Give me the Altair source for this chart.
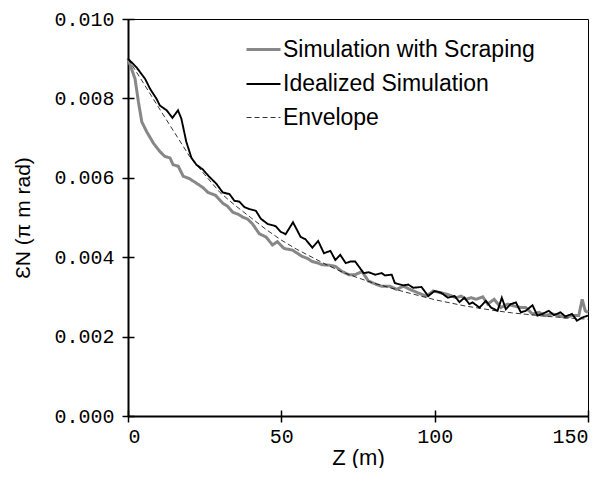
import altair as alt
import pandas as pd

series_names = ["Simulation with Scraping", "Idealized Simulation", "Envelope"]
series_colors = ["#878787", "#000000", "#000000"]
series_dash = [[1, 0], [1, 0], [5, 3]]
series_width = [3, 0.8, 1]

x_ticks = [0, 50, 100, 150]
y_ticks = [0.0, 0.002, 0.004, 0.006, 0.008, 0.010]

scr_z = [0, 2.3, 3.4, 4.5, 6.1, 8.3, 10.4, 12.0, 13.7, 14.7, 16.4, 18.0, 20.0, 22.8, 24.5,
         26.1, 28.5, 30.9, 32.5, 34.2, 36.0, 37.4, 39.0, 40.6, 42.8, 45.0, 47.1, 48.7, 50.9,
         53.6, 55.2, 56.8, 58.5, 60.1, 61.7, 63.3, 65.5, 67.6, 69.8, 72.0, 74.1, 76.3, 78.4,
         81.1, 82.7, 85.4, 87.6, 89.8, 91.9, 94.6, 97.3, 99.5, 102.2, 104.3, 107.0, 108.6,
         110.3, 111.9, 113.5, 115.7, 117.3, 119.4, 121.6, 123.8, 125.9, 128.1, 129.7, 131.9,
         134.0, 136.2, 138.3, 140.5, 142.6, 144.8, 147.0, 148.1, 149.1, 150.0]
scr_v = [0.00900, 0.00849, 0.00791, 0.00741, 0.00716, 0.00687, 0.00666, 0.00654, 0.00650,
         0.00633, 0.00629, 0.00604, 0.00598, 0.00584, 0.00575, 0.00563, 0.00556, 0.00536,
         0.00528, 0.00513, 0.00508, 0.00501, 0.00496, 0.00484, 0.00459, 0.00451, 0.00431,
         0.00439, 0.00422, 0.00418, 0.00410, 0.00402, 0.00397, 0.00389, 0.00386, 0.00381,
         0.00380, 0.00377, 0.00364, 0.00356, 0.00356, 0.00364, 0.00340, 0.00331, 0.00327,
         0.00327, 0.00319, 0.00327, 0.00319, 0.00310, 0.00302, 0.00315, 0.00310, 0.00306,
         0.00298, 0.00302, 0.00294, 0.00298, 0.00294, 0.00300, 0.00282, 0.00294, 0.00273,
         0.00282, 0.00277, 0.00273, 0.00273, 0.00257, 0.00261, 0.00253, 0.00257, 0.00253,
         0.00248, 0.00253, 0.00253, 0.00294, 0.00265, 0.00261]

ideal_z = [0, 2.8, 5.6, 7.2, 9.3, 10.4, 12.6, 14.5, 16.3, 17.4, 19.0, 20.7, 22.3, 24.4, 26.6,
           28.8, 30.9, 33.1, 34.7, 36.3, 38.0, 39.6, 41.7, 43.3, 45.5, 48.2, 49.8, 51.4, 53.8,
           56.3, 57.9, 60.1, 62.0, 63.9, 66.0, 67.6, 69.2, 71.0, 72.5, 74.1, 75.7, 76.8, 78.5,
           80.6, 82.7, 83.8, 86.0, 87.0, 89.8, 91.4, 93.0, 95.7, 97.9, 100.0, 102.2, 104.3,
           106.5, 108.1, 109.7, 111.3, 112.4, 114.6, 116.7, 118.4, 120.5, 121.9, 123.2, 124.8,
           126.5, 128.1, 129.7, 131.9, 133.5, 135.1, 137.2, 138.9, 141.0, 142.6, 144.8, 146.4,
           148.1, 150.0]
ideal_v = [0.00900, 0.00878, 0.00849, 0.00824, 0.00799, 0.00782, 0.00770, 0.00751, 0.00770,
           0.00749, 0.00691, 0.00650, 0.00633, 0.00621, 0.00602, 0.00585, 0.00563, 0.00559,
           0.00542, 0.00540, 0.00526, 0.00521, 0.00517, 0.00497, 0.00484, 0.00478, 0.00464,
           0.00458, 0.00488, 0.00451, 0.00445, 0.00424, 0.00441, 0.00410, 0.00416, 0.00393,
           0.00406, 0.00385, 0.00389, 0.00389, 0.00372, 0.00360, 0.00362, 0.00356, 0.00360,
           0.00354, 0.00356, 0.00335, 0.00329, 0.00331, 0.00323, 0.00325, 0.00302, 0.00315,
           0.00310, 0.00298, 0.00302, 0.00287, 0.00298, 0.00282, 0.00286, 0.00273, 0.00290,
           0.00273, 0.00265, 0.00298, 0.00269, 0.00282, 0.00286, 0.00261, 0.00265, 0.00279,
           0.00253, 0.00257, 0.00265, 0.00254, 0.00261, 0.00251, 0.00257, 0.00240, 0.00248,
           0.00253]

env_z = [0, 5, 10, 15, 20, 25, 30, 35, 40, 45, 50, 55, 60, 65, 70, 75, 80, 85, 90, 95, 100,
         105, 110, 115, 120, 125, 130, 135, 140, 145, 150]
env_v = [0.00900, 0.00839, 0.00777, 0.00716, 0.00655, 0.00608, 0.00563, 0.00530, 0.00500,
         0.00470, 0.00443, 0.00420, 0.00400, 0.00380, 0.00362, 0.00348, 0.00335, 0.00324,
         0.00313, 0.00303, 0.00293, 0.00285, 0.00277, 0.00271, 0.00265, 0.00260, 0.00256,
         0.00252, 0.00249, 0.00246, 0.00244]

rows = []
for name, zs, vs in zip(series_names, [scr_z, ideal_z, env_z], [scr_v, ideal_v, env_v]):
    for i, (z, v) in enumerate(zip(zs, vs)):
        rows.append({"series": name, "z": z, "v": v, "idx": i})
df = pd.DataFrame(rows)

x_scale = alt.Scale(domain=[0, 150], nice=False, zero=False)
y_scale = alt.Scale(domain=[0, 0.010], nice=False)

legend = alt.Legend(
    orient="none", legendX=117, legendY=12, title=None,
    symbolType="stroke", symbolSize=1156, labelFont="Liberation Sans",
    labelFontSize=23, labelColor="black", labelOffset=1, rowPadding=4, labelLimit=500,
)

lines = alt.Chart(df).mark_line().encode(
    x=alt.X("z:Q", scale=x_scale,
            axis=alt.Axis(values=x_ticks, title="Z (m)", labelPadding=4, titlePadding=1)),
    y=alt.Y("v:Q", scale=y_scale,
            axis=alt.Axis(values=y_ticks, format=".3f", title="ƐN (π m rad)",
                          labelPadding=8, titlePadding=20, titleFontSize=21)),
    color=alt.Color("series:N", title=None,
                    scale=alt.Scale(domain=series_names, range=series_colors), legend=legend),
    strokeDash=alt.StrokeDash("series:N", title=None,
                              scale=alt.Scale(domain=series_names, range=series_dash), legend=legend),
    strokeWidth=alt.StrokeWidth("series:N", title=None,
                                scale=alt.Scale(domain=series_names, range=series_width), legend=legend),
    order="idx:Q",
)

inner = alt.Chart(df).mark_line(strokeOpacity=0).encode(
    x=alt.X("z:Q", scale=x_scale,
            axis=alt.Axis(orient="bottom", offset=-6, domain=False, labels=False,
                          title="", values=x_ticks, tickSize=6)),
    y=alt.Y("v:Q", scale=y_scale,
            axis=alt.Axis(orient="left", offset=-6, domain=False, labels=False,
                          title="", values=y_ticks, tickSize=6)),
)

chart = alt.layer(lines, inner).resolve_axis(x="independent", y="independent").properties(
    width=460, height=397,
    autosize=alt.AutoSizeParams(type="none"),
    padding={"left": 120, "top": 11, "right": 17, "bottom": 52},
).configure_view(
    stroke="black", strokeWidth=1
).configure_axis(
    grid=False, domainColor="black", domainWidth=2, tickColor="black", tickWidth=1.5,
    tickSize=6, labelFont="Liberation Mono", labelFontSize=20, labelColor="black",
    titleFont="Liberation Sans", titleFontSize=22, titleFontWeight="normal", titleColor="black",
)

chart.save("out.html", embed_options={"renderer": "svg", "actions": False})
